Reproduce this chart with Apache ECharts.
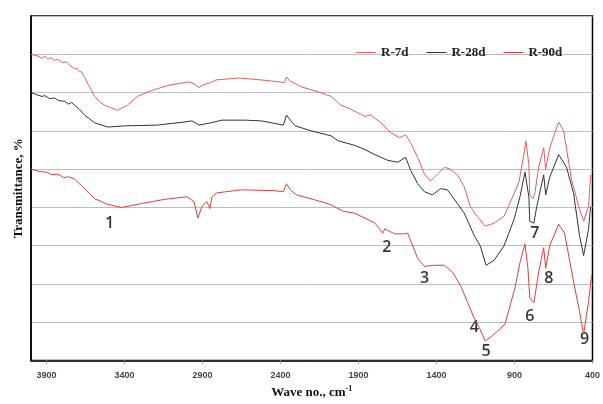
<!DOCTYPE html>
<html><head><meta charset="utf-8">
<script src="https://cdn.jsdelivr.net/npm/echarts@6/dist/echarts.min.js"></script>
<style>html,body{margin:0;padding:0;background:#fff}#c{width:603px;height:404px}</style>
</head><body><div id="c"></div>
<script>
var seriesNames = ['R-7d', 'R-28d', 'R-90d'];
var xTicks = [3900, 3400, 2900, 2400, 1900, 1400, 900, 400];

var r7d = [
[4000,80.0],[3960,79.6],[3930,79.0],[3911,79.5],[3890,78.8],[3870,79.1],[3850,78.4],[3828,78.7],[3800,77.9],[3790,77.6],[3770,78.0],[3750,77.0],[3739,76.9],[3720,76.3],[3700,76.2],[3690,75.5],[3675,75.4],[3660,74.2],[3650,73.6],[3637,72.3],[3620,71.2],[3592,69.0],[3560,67.6],[3528,66.7],[3446,65.4],[3382,66.7],[3318,69.0],[3229,70.5],[3127,71.8],[3019,72.6],[2987,72.8],[2955,72.3],[2923,71.3],[2891,72.1],[2847,72.6],[2815,73.3],[2668,73.8],[2522,73.3],[2413,72.8],[2375,72.6],[2362,74.1],[2343,73.1],[2331,72.8],[2267,71.5],[2158,70.2],[2076,69.0],[2012,66.7],[1967,66.0],[1923,65.1],[1859,63.8],[1821,64.1],[1757,62.1],[1693,59.5],[1636,58.2],[1598,59.0],[1566,56.9],[1521,53.1],[1477,48.7],[1438,46.9],[1394,48.7],[1349,50.5],[1311,50.0],[1266,48.5],[1222,45.4],[1184,40.3],[1139,37.7],[1088,35.1],[1031,35.9],[967,37.7],[903,43.6],[871,46.7],[840,53.8],[827,57.4],[808,51.3],[802,43.3],[782,42.3],[770,43.6],[745,50.5],[713,55.6],[700,50.0],[674,55.6],[617,62.3],[585,60.0],[534,47.2],[489,40.3],[457,36.4],[425,40.3],[412,48.5]
];
var r28d = [
[4000,70.0],[3960,69.4],[3930,69.0],[3911,69.2],[3880,68.4],[3850,68.6],[3820,67.9],[3783,67.7],[3760,67.0],[3740,67.4],[3720,66.7],[3690,65.6],[3656,64.1],[3630,63.3],[3592,62.1],[3509,61.0],[3401,61.3],[3191,61.5],[3019,62.3],[2968,62.6],[2923,61.5],[2847,62.1],[2777,62.8],[2624,62.8],[2522,62.6],[2382,61.5],[2362,64.1],[2337,62.8],[2305,61.3],[2203,60.0],[2076,58.7],[2031,57.4],[1923,56.2],[1859,55.1],[1795,53.8],[1712,52.3],[1649,51.8],[1598,53.1],[1566,49.7],[1521,46.2],[1477,44.1],[1426,43.3],[1375,44.9],[1330,44.6],[1266,41.0],[1222,38.5],[1158,32.6],[1120,30.0],[1082,24.9],[1031,26.2],[967,30.0],[903,36.9],[865,42.8],[833,49.2],[808,42.8],[802,36.4],[776,35.9],[757,40.3],[713,48.5],[700,43.3],[674,47.9],[617,53.8],[566,50.5],[521,43.6],[483,32.6],[457,27.4],[425,34.4],[412,40.3]
];
var r90d = [
[4000,50.0],[3950,49.4],[3900,49.2],[3870,48.6],[3828,48.7],[3790,47.8],[3760,48.0],[3720,47.4],[3690,46.2],[3656,44.9],[3620,43.4],[3592,42.3],[3509,40.8],[3420,40.0],[3293,41.0],[3146,42.1],[3000,42.8],[2955,41.5],[2930,37.2],[2904,40.3],[2872,41.5],[2853,39.7],[2840,42.8],[2808,43.8],[2656,44.6],[2445,44.4],[2382,44.1],[2362,46.2],[2337,44.6],[2299,43.3],[2190,42.1],[2082,40.8],[1999,39.0],[1923,38.5],[1859,37.2],[1795,35.9],[1744,33.3],[1732,34.4],[1668,33.1],[1604,33.1],[1585,33.3],[1553,30.0],[1521,26.7],[1477,24.6],[1413,24.9],[1349,24.9],[1298,23.1],[1247,19.7],[1203,15.4],[1158,11.0],[1126,8.7],[1088,5.1],[1031,6.9],[961,9.5],[897,19.0],[865,25.6],[833,30.5],[814,24.1],[802,16.4],[776,15.1],[745,23.1],[713,29.5],[700,24.1],[674,30.0],[617,35.6],[579,33.3],[521,20.5],[483,12.8],[457,6.9],[425,15.4],[406,22.3]
];
var peakLabels = ['1','2','3','4','5','6','7','8','9'];
var peakPos = [[3497,35.9],[1719,29.5],[1477,21.5],[1158,8.7],[1082,2.3],[802,11.5],[770,33.1],[680,21.5],[451,5.6]];

var colors = ['#e0605a', '#333333', '#d9413c'];
var chart = echarts.init(document.getElementById('c'), null, {renderer: 'canvas'});
var serif = '"Liberation Serif","DejaVu Serif",serif';
var lineSeries = [r7d, r28d, r90d].map(function (d, i) {
  return {
    name: seriesNames[i], type: 'line', data: d, showSymbol: false, smooth: false,
    lineStyle: {width: 1, color: colors[i]}, itemStyle: {color: colors[i]}, z: 3
  };
});
lineSeries.push({
  type: 'scatter', symbolSize: 0, silent: true,
  data: peakPos.map(function (p, i) { return {value: p, name: peakLabels[i]}; }),
  label: {show: true, position: 'inside', formatter: '{b}', color: '#000', fontWeight: 600,
    fontFamily: '"Open Sans","DejaVu Sans",sans-serif', fontSize: 16}
});
chart.setOption({
  animation: false,
  backgroundColor: '#fff',
  grid: {left: 31, right: 7, top: 16, bottom: 37, show: true, borderColor: '#000', borderWidth: 1.5},
  legend: {
    data: seriesNames, left: 351, top: 41, itemWidth: 20, itemHeight: 1, itemGap: 18, icon: 'rect',
    textStyle: {fontFamily: serif, fontWeight: 'bold', fontSize: 13, color: '#222'}
  },
  xAxis: {
    type: 'value', inverse: true, min: 400, max: 4000, interval: 500,
    name: 'Wave no., cm{sup|-1}', nameLocation: 'middle', nameGap: 22,
    nameTextStyle: {fontFamily: serif, fontWeight: 'bold', fontSize: 13, color: '#111',
      rich: {sup: {fontFamily: serif, fontWeight: 'bold', fontSize: 8, verticalAlign: 'top', padding: [0,0,8,0]}}},
    axisLine: {show: true, lineStyle: {color: '#000', width: 1.5}},
    axisTick: {show: true, length: 3, lineStyle: {color: '#999'}},
    axisLabel: {showMaxLabel: false, fontSize: 9, fontWeight: 'bold', color: '#444', margin: 10,
      fontFamily: '"Liberation Sans","DejaVu Sans",sans-serif',
      formatter: function (v) { return xTicks.indexOf(v) >= 0 ? String(v) : ''; }},
    splitLine: {show: false}
  },
  yAxis: {
    type: 'value', min: 0, max: 90, interval: 10,
    name: 'Transmittance, %', nameLocation: 'middle', nameGap: 6,
    nameTextStyle: {fontFamily: serif, fontWeight: 'bold', fontSize: 13, color: '#111'},
    axisLine: {show: true, lineStyle: {color: '#000', width: 1.5}},
    axisTick: {show: false}, axisLabel: {show: false},
    splitLine: {show: true, lineStyle: {color: '#bdbdbd', width: 1}}
  },
  series: lineSeries
});
</script></body></html>
